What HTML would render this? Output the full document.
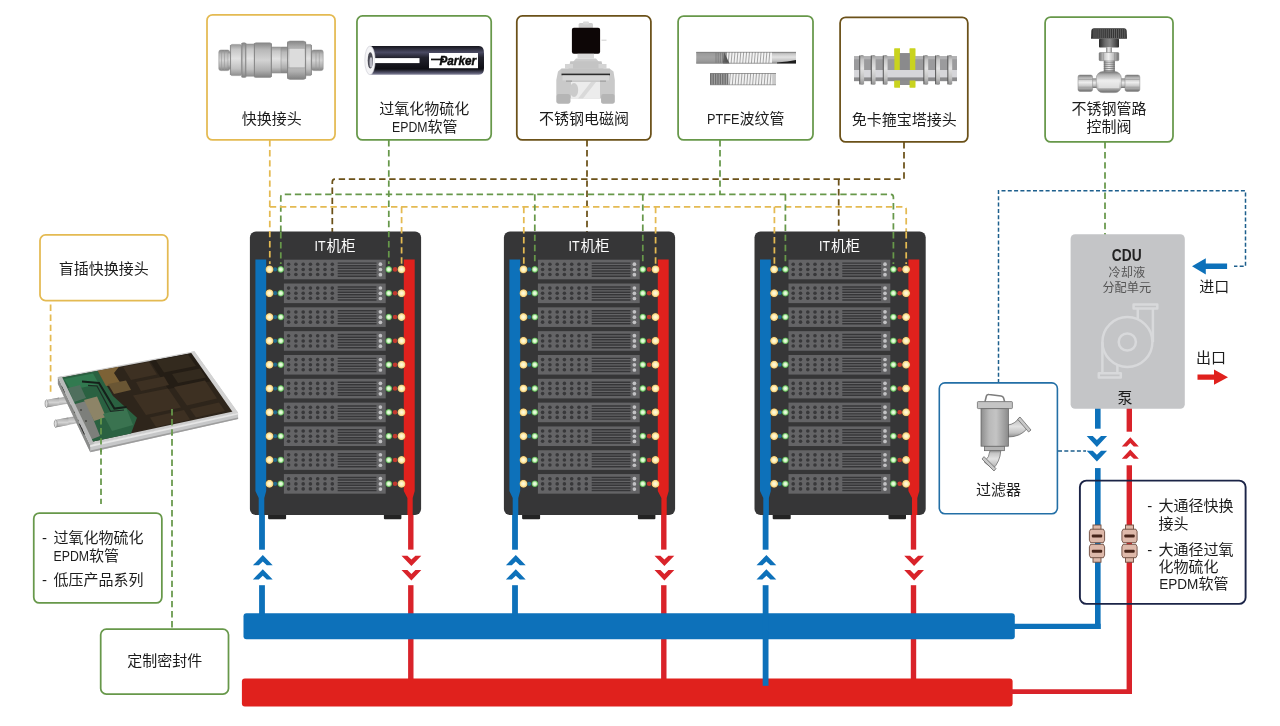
<!DOCTYPE html>
<html lang="zh-CN">
<head>
<meta charset="utf-8">
<title>液冷系统示意图</title>
<style>
html,body{margin:0;padding:0;background:#fff;}
body{width:1280px;height:726px;overflow:hidden;}
svg{display:block;will-change:transform;}
text{font-family:"Liberation Sans","Noto Sans CJK SC",sans-serif;}
.t{font-size:15px;fill:#1c1c1c;}
.dash{fill:none;stroke-width:1.75;stroke-dasharray:6.4 3.7;}
</style>
</head>
<body>
<svg width="1280" height="726" viewBox="0 0 1280 726">
<defs>
<linearGradient id="mv" x1="0" y1="0" x2="0" y2="1">
<stop offset="0" stop-color="#979797"/><stop offset="0.16" stop-color="#c6c6c6"/><stop offset="0.45" stop-color="#e2e2e2"/><stop offset="0.78" stop-color="#c1c1c1"/><stop offset="1" stop-color="#8e8e8e"/>
</linearGradient>
<linearGradient id="mv2" x1="0" y1="0" x2="0" y2="1">
<stop offset="0" stop-color="#868686"/><stop offset="0.2" stop-color="#b8b8b8"/><stop offset="0.5" stop-color="#d3d3d3"/><stop offset="0.8" stop-color="#aeaeae"/><stop offset="1" stop-color="#808080"/>
</linearGradient>
<linearGradient id="mh" x1="0" y1="0" x2="1" y2="0">
<stop offset="0" stop-color="#8a8a8a"/><stop offset="0.25" stop-color="#cfcfcf"/><stop offset="0.5" stop-color="#e9e9e9"/><stop offset="0.8" stop-color="#b5b5b5"/><stop offset="1" stop-color="#808080"/>
</linearGradient>
<linearGradient id="mhf" x1="0" y1="0" x2="1" y2="0">
<stop offset="0" stop-color="#8d8d8d"/><stop offset="0.3" stop-color="#b9b9b9"/><stop offset="0.55" stop-color="#c4c4c4"/><stop offset="0.85" stop-color="#9f9f9f"/><stop offset="1" stop-color="#8a8a8a"/>
</linearGradient>
<linearGradient id="mvc" x1="0" y1="0" x2="0" y2="1">
<stop offset="0" stop-color="#747474"/><stop offset="0.16" stop-color="#b4b4b4"/><stop offset="0.45" stop-color="#eeeeee"/><stop offset="0.76" stop-color="#bbbbbb"/><stop offset="1" stop-color="#6c6c6c"/>
</linearGradient>
<linearGradient id="mhc" x1="0" y1="0" x2="1" y2="0">
<stop offset="0" stop-color="#6f6f6f"/><stop offset="0.22" stop-color="#c2c2c2"/><stop offset="0.48" stop-color="#efefef"/><stop offset="0.8" stop-color="#b2b2b2"/><stop offset="1" stop-color="#6a6a6a"/>
</linearGradient>
<linearGradient id="mhd" x1="0" y1="0" x2="1" y2="0">
<stop offset="0" stop-color="#2a2a2a"/><stop offset="0.3" stop-color="#6c6c6c"/><stop offset="0.55" stop-color="#8a8a8a"/><stop offset="1" stop-color="#2c2c2c"/>
</linearGradient>
<linearGradient id="hoseg" x1="0" y1="0" x2="0" y2="1">
<stop offset="0" stop-color="#15151c"/><stop offset="0.22" stop-color="#4a4a62"/><stop offset="0.4" stop-color="#23232e"/><stop offset="0.8" stop-color="#0e0e14"/><stop offset="0.93" stop-color="#55556c"/><stop offset="1" stop-color="#8a8aa0"/>
</linearGradient>
<radialGradient id="ledY"><stop offset="0" stop-color="#fffbe6"/><stop offset="0.5" stop-color="#fdeeb6"/><stop offset="0.8" stop-color="#f3cf78"/><stop offset="1" stop-color="#c89a45" stop-opacity="0.15"/></radialGradient>
<radialGradient id="ledG"><stop offset="0" stop-color="#f4ffee"/><stop offset="0.45" stop-color="#d2f5c4"/><stop offset="0.8" stop-color="#5cae54"/><stop offset="1" stop-color="#2f7d35" stop-opacity="0.15"/></radialGradient>
<g id="srv">
<rect x="0" y="0" width="101.8" height="19.6" fill="#646466"/>
<g fill="#38383a">
<circle cx="4.7" cy="4.6" r="1.8"/>
<circle cx="12.0" cy="4.6" r="1.8"/>
<circle cx="19.3" cy="4.6" r="1.8"/>
<circle cx="26.5" cy="4.6" r="1.8"/>
<circle cx="33.8" cy="4.6" r="1.8"/>
<circle cx="41.1" cy="4.6" r="1.8"/>
<circle cx="48.4" cy="4.6" r="1.8"/>
<circle cx="4.7" cy="9.8" r="1.8"/>
<circle cx="12.0" cy="9.8" r="1.8"/>
<circle cx="19.3" cy="9.8" r="1.8"/>
<circle cx="26.5" cy="9.8" r="1.8"/>
<circle cx="33.8" cy="9.8" r="1.8"/>
<circle cx="41.1" cy="9.8" r="1.8"/>
<circle cx="48.4" cy="9.8" r="1.8"/>
<circle cx="4.7" cy="14.8" r="1.8"/>
<circle cx="12.0" cy="14.8" r="1.8"/>
<circle cx="19.3" cy="14.8" r="1.8"/>
<circle cx="26.5" cy="14.8" r="1.8"/>
<circle cx="33.8" cy="14.8" r="1.8"/>
<circle cx="41.1" cy="14.8" r="1.8"/>
<circle cx="48.4" cy="14.8" r="1.8"/>
</g>
<g stroke="#363638" stroke-width="1.45">
<path d="M53.8 3.40H92.6"/>
<path d="M53.8 6.02H92.6"/>
<path d="M53.8 8.64H92.6"/>
<path d="M53.8 11.26H92.6"/>
<path d="M53.8 13.88H92.6"/>
<path d="M53.8 16.50H92.6"/>
</g>
<g fill="#c2c2c4"><circle cx="96.5" cy="4.5" r="1.85"/><circle cx="96.5" cy="9.8" r="1.85"/><circle cx="96.5" cy="15" r="1.85"/></g>
</g>
<g id="unit">
<use href="#srv" x="34" y="0"/>
<circle cx="25.2" cy="9.7" r="2.1" fill="#1f6a8e"/>
<circle cx="145.2" cy="9.7" r="2.3" fill="#c23a2e"/>
<circle cx="19.6" cy="9.7" r="4.3" fill="url(#ledY)"/>
<circle cx="30.9" cy="9.7" r="3.7" fill="url(#ledG)"/>
<circle cx="138.9" cy="9.7" r="3.7" fill="url(#ledG)"/>
<circle cx="151.6" cy="9.7" r="4.3" fill="url(#ledY)"/>
</g>
<path id="chev" d="M0 0L9.9 10.3H4L0 6.5L-4 10.3H-9.9Z"/>
</defs>
<g id="dashed-lines">
<path class="dash" stroke="#6b5119" d="M904 142V179H335Q332.3 179 332.3 182V232"/>
<path class="dash" stroke="#6b5119" d="M587 140V232"/>
<path class="dash" stroke="#6b5119" d="M838.7 179V232"/>
<path class="dash" stroke="#67984a" d="M720 140V194.3"/>
<path class="dash" stroke="#67984a" d="M280.8 232V197.3Q280.8 194.3 283.8 194.3H890.4Q893.4 194.3 893.4 197.3V232"/>
<path class="dash" stroke="#67984a" d="M1105 142V235"/>
<path class="dash" stroke="#67984a" d="M101 418V504"/>
<path class="dash" stroke="#67984a" d="M172 409V629"/>
<path class="dash" stroke="#e4ba52" d="M269.8 206.8H903.2Q906.2 206.8 906.2 209.8V232"/>
<path class="dash" stroke="#e4ba52" d="M50.6 304.5V394"/>
<path class="dash" style="stroke-width:1.5;stroke-dasharray:4 2.3" stroke="#1d5f8d" d="M998.5 383V190.7H1245.5V266.2H1234"/>
<path class="dash" style="stroke-width:1.5;stroke-dasharray:4 2.3" stroke="#1d5f8d" d="M1058 451H1086"/>
</g>
<g id="boxes">
<rect x="207.00" y="14.80" width="128.05" height="125.10" rx="5.6" fill="#fff" stroke="#e4ba52" stroke-width="1.75"/>
<rect x="356.95" y="15.90" width="134.25" height="124.00" rx="5.6" fill="#fff" stroke="#67984a" stroke-width="1.75"/>
<rect x="516.80" y="15.90" width="134.10" height="124.00" rx="5.6" fill="#fff" stroke="#6b5119" stroke-width="1.75"/>
<rect x="678.10" y="16.00" width="134.90" height="123.90" rx="5.6" fill="#fff" stroke="#67984a" stroke-width="1.75"/>
<rect x="840.10" y="17.30" width="127.70" height="124.60" rx="5.6" fill="#fff" stroke="#6b5119" stroke-width="1.75"/>
<rect x="1045.10" y="17.10" width="127.90" height="124.80" rx="5.6" fill="#fff" stroke="#67984a" stroke-width="1.75"/>
<rect x="40.00" y="234.90" width="127.75" height="65.70" rx="5.6" fill="#fff" stroke="#e4ba52" stroke-width="1.75"/>
<rect x="33.75" y="513.10" width="128.10" height="89.80" rx="5.6" fill="#fff" stroke="#67984a" stroke-width="1.75"/>
<rect x="100.70" y="629.20" width="127.80" height="64.80" rx="5.6" fill="#fff" stroke="#67984a" stroke-width="1.75"/>
<rect x="939.30" y="382.90" width="118.10" height="130.80" rx="5.6" fill="#fff" stroke="#236fa6" stroke-width="1.6"/>
</g>
<g id="pipes">
<rect x="408.1" y="505" width="5.4" height="44.6" fill="#d9232a"/>
<rect x="408.1" y="585.2" width="5.4" height="95" fill="#d9232a"/>
<use href="#chev" transform="translate(411.4 566) scale(1 -1)" fill="#d9232a"/>
<use href="#chev" transform="translate(411.4 580.4) scale(1 -1)" fill="#d9232a"/>
<rect x="661.1" y="505" width="5.4" height="44.6" fill="#d9232a"/>
<rect x="661.1" y="585.2" width="5.4" height="95" fill="#d9232a"/>
<use href="#chev" transform="translate(664.4 566) scale(1 -1)" fill="#d9232a"/>
<use href="#chev" transform="translate(664.4 580.4) scale(1 -1)" fill="#d9232a"/>
<rect x="910.8" y="505" width="5.4" height="44.6" fill="#d9232a"/>
<rect x="910.8" y="585.2" width="5.4" height="95" fill="#d9232a"/>
<use href="#chev" transform="translate(914.1 566) scale(1 -1)" fill="#d9232a"/>
<use href="#chev" transform="translate(914.1 580.4) scale(1 -1)" fill="#d9232a"/>
<rect x="241.9" y="678.4" width="770.7" height="28.2" rx="3" fill="#e0211d"/>
<path d="M1010 691.6H1131.9" fill="none" stroke="#d9232a" stroke-width="4.8"/><rect x="1126.6" y="465.3" width="5.4" height="228.7" fill="#d9232a"/>
<rect x="1126.6" y="408" width="5.4" height="23.7" fill="#d9232a"/>
<use href="#chev" transform="translate(1130.3 437.2) scale(0.86 0.91)" fill="#d9232a"/>
<use href="#chev" transform="translate(1130.3 449.5) scale(0.86 0.91)" fill="#d9232a"/>
<rect x="243.5" y="613.2" width="771.3" height="26.1" rx="3" fill="#0d71ba"/>
<rect x="259.1" y="505" width="5.8" height="44.7" fill="#0d71ba"/>
<rect x="259.1" y="585.2" width="5.8" height="30" fill="#0d71ba"/>
<use href="#chev" transform="translate(262.8 555)" fill="#0d71ba"/>
<use href="#chev" transform="translate(262.8 569.2)" fill="#0d71ba"/>
<rect x="512.1" y="505" width="5.8" height="44.7" fill="#0d71ba"/>
<rect x="512.1" y="585.2" width="5.8" height="30" fill="#0d71ba"/>
<use href="#chev" transform="translate(515.8 555)" fill="#0d71ba"/>
<use href="#chev" transform="translate(515.8 569.2)" fill="#0d71ba"/>
<rect x="762.7" y="505" width="5.8" height="44.7" fill="#0d71ba"/>
<rect x="762.7" y="585.2" width="5.8" height="100.6" fill="#0d71ba"/>
<use href="#chev" transform="translate(766.4 555)" fill="#0d71ba"/>
<use href="#chev" transform="translate(766.4 569.2)" fill="#0d71ba"/>
<path d="M1012 626.4H1100.6" fill="none" stroke="#0d71ba" stroke-width="5.2"/><rect x="1095" y="468.1" width="5.6" height="160.9" fill="#0d71ba"/>
<rect x="1095" y="408" width="5.6" height="20.7" fill="#0d71ba"/>
<use href="#chev" transform="translate(1096.9 446.9) scale(1.03 -1.05)" fill="#0d71ba"/>
<use href="#chev" transform="translate(1096.9 461.6) scale(1.03 -1.05)" fill="#0d71ba"/>
</g>
<g transform="translate(249.9 0)">
<rect x="18.2" y="510" width="18" height="9.2" rx="1" fill="#232323"/><rect x="134" y="510" width="17.5" height="9.2" rx="1" fill="#232323"/>
<rect x="0" y="231.6" width="171.2" height="283.4" rx="6" fill="#363637"/>
<path d="M5.5 259.4H16.3V491L14.4 498V515H8.8V498L5.5 491Z" fill="#0d71ba"/>
<path d="M153.9 259.4H164.8V491L162.8 498V515H157.5V498L153.9 491Z" fill="#e0211d"/>
<use href="#unit" y="259.70"/>
<use href="#unit" y="283.52"/>
<use href="#unit" y="307.34"/>
<use href="#unit" y="331.16"/>
<use href="#unit" y="354.98"/>
<use href="#unit" y="378.80"/>
<use href="#unit" y="402.62"/>
<use href="#unit" y="426.44"/>
<use href="#unit" y="450.26"/>
<use href="#unit" y="474.08"/>
<text x="64.6" y="251" font-size="14.5" fill="#fff"><tspan textLength="11" lengthAdjust="spacingAndGlyphs">IT</tspan><tspan dx="1">机柜</tspan></text>
</g>
<g transform="translate(503.9 0)">
<rect x="18.2" y="510" width="18" height="9.2" rx="1" fill="#232323"/><rect x="134" y="510" width="17.5" height="9.2" rx="1" fill="#232323"/>
<rect x="0" y="231.6" width="171.2" height="283.4" rx="6" fill="#363637"/>
<path d="M5.5 259.4H16.3V491L14.4 498V515H8.8V498L5.5 491Z" fill="#0d71ba"/>
<path d="M153.9 259.4H164.8V491L162.8 498V515H157.5V498L153.9 491Z" fill="#e0211d"/>
<use href="#unit" y="259.70"/>
<use href="#unit" y="283.52"/>
<use href="#unit" y="307.34"/>
<use href="#unit" y="331.16"/>
<use href="#unit" y="354.98"/>
<use href="#unit" y="378.80"/>
<use href="#unit" y="402.62"/>
<use href="#unit" y="426.44"/>
<use href="#unit" y="450.26"/>
<use href="#unit" y="474.08"/>
<text x="64.6" y="251" font-size="14.5" fill="#fff"><tspan textLength="11" lengthAdjust="spacingAndGlyphs">IT</tspan><tspan dx="1">机柜</tspan></text>
</g>
<g transform="translate(754.5 0)">
<rect x="18.2" y="510" width="18" height="9.2" rx="1" fill="#232323"/><rect x="134" y="510" width="17.5" height="9.2" rx="1" fill="#232323"/>
<rect x="0" y="231.6" width="171.2" height="283.4" rx="6" fill="#363637"/>
<path d="M5.5 259.4H16.3V491L14.4 498V515H8.8V498L5.5 491Z" fill="#0d71ba"/>
<path d="M153.9 259.4H164.8V491L162.8 498V515H157.5V498L153.9 491Z" fill="#e0211d"/>
<use href="#unit" y="259.70"/>
<use href="#unit" y="283.52"/>
<use href="#unit" y="307.34"/>
<use href="#unit" y="331.16"/>
<use href="#unit" y="354.98"/>
<use href="#unit" y="378.80"/>
<use href="#unit" y="402.62"/>
<use href="#unit" y="426.44"/>
<use href="#unit" y="450.26"/>
<use href="#unit" y="474.08"/>
<text x="64.6" y="251" font-size="14.5" fill="#fff"><tspan textLength="11" lengthAdjust="spacingAndGlyphs">IT</tspan><tspan dx="1">机柜</tspan></text>
</g>
<g id="dashed-over-rack">
<path class="dash" stroke="#e4ba52" d="M269.8 140V264"/>
<path class="dash" stroke="#67984a" d="M388.8 140V264"/>
<path class="dash" stroke="#67984a" d="M280.8 232V264"/>
<path class="dash" stroke="#e4ba52" d="M401.6 206.8V264"/>
<path class="dash" stroke="#e4ba52" d="M523.8 206.8V264"/>
<path class="dash" stroke="#67984a" d="M534.8 194.3V264"/>
<path class="dash" stroke="#e4ba52" d="M774.4 206.8V264"/>
<path class="dash" stroke="#67984a" d="M785.4 194.3V264"/>
<path class="dash" stroke="#67984a" d="M642.8 194.3V264"/>
<path class="dash" stroke="#e4ba52" d="M655.6 206.8V264"/>
<path class="dash" stroke="#67984a" d="M893.4 232V264"/>
<path class="dash" stroke="#e4ba52" d="M906.2 232V264"/>
</g>
<g id="cdu">
<rect x="1070.6" y="234.3" width="114.2" height="174.4" rx="4.5" fill="#c4c5c7"/>
<g fill="none" stroke="#d8d9db" stroke-width="2.5" stroke-linejoin="round">
<circle cx="1127.4" cy="342" r="25"/>
<circle cx="1127.3" cy="342" r="8.6"/>
<rect x="1133.6" y="304.4" width="23.7" height="4"/>
<path d="M1137.8 308.4V319.4M1152.9 308.4V342"/>
<rect x="1098.8" y="373.3" width="22" height="4.2"/>
<path d="M1102.4 373.3V342M1117.4 373.3V365"/>
</g>
<path d="M1227.1 263.5H1205.8V258.2L1192 266.3L1205.8 274.4V269.1H1227.1Z" fill="#0d71ba"/>
<path d="M1197.5 374.6H1214V369.6L1228 377.2L1214 384.8V379.8H1197.5Z" fill="#e0211d"/>
</g>
<rect x="1079.90" y="480.60" width="165.70" height="123.30" rx="6.5" fill="none" stroke="#1b2447" stroke-width="1.9"/>
<g id="couplings">
<g transform="translate(1097.0 0)" stroke="#6d4c3f" stroke-width="0.9" fill="#deb9aa">
<rect x="-4" y="525" width="8" height="5"/><rect x="-4" y="557" width="8" height="5.2"/>
<path d="M-6.4 529.2H6.4L7.6 531.5V540.2L6.4 542.7H-6.4L-7.6 540.2V531.5Z"/>
<path d="M-6.4 544.3H6.4L7.6 546.8V555.3L6.4 557.7H-6.4L-7.6 555.3V546.8Z"/>
<rect x="-5.2" y="534.5" width="10.4" height="3" rx="1" fill="#47251a" stroke="none"/>
<rect x="-5.2" y="549.7" width="10.4" height="3" rx="1" fill="#47251a" stroke="none"/>
</g>
<g transform="translate(1129.5 0)" stroke="#6d4c3f" stroke-width="0.9" fill="#deb9aa">
<rect x="-4" y="525" width="8" height="5"/><rect x="-4" y="557" width="8" height="5.2"/>
<path d="M-6.4 529.2H6.4L7.6 531.5V540.2L6.4 542.7H-6.4L-7.6 540.2V531.5Z"/>
<path d="M-6.4 544.3H6.4L7.6 546.8V555.3L6.4 557.7H-6.4L-7.6 555.3V546.8Z"/>
<rect x="-5.2" y="534.5" width="10.4" height="3" rx="1" fill="#47251a" stroke="none"/>
<rect x="-5.2" y="549.7" width="10.4" height="3" rx="1" fill="#47251a" stroke="none"/>
</g>
</g>
<g id="quick-coupling" stroke="#8b8b8b" stroke-width="0.5">
<rect x="218.8" y="50.0" width="10.8" height="20.6" rx="2" fill="url(#mv2)"/>
<rect x="228.0" y="52.0" width="4.0" height="16.5" rx="1" fill="url(#mv)"/>
<rect x="230.6" y="44.4" width="10.8" height="31.2" rx="1.5" fill="url(#mv)"/>
<rect x="241.9" y="42.8" width="3.9" height="34.7" rx="1" fill="url(#mv2)"/>
<rect x="245.6" y="44.0" width="9.0" height="32.3" rx="1" fill="url(#mv)"/>
<rect x="254.4" y="42.8" width="17.0" height="34.7" rx="1.5" fill="url(#mv2)"/>
<rect x="271.3" y="47.0" width="10.2" height="26.1" rx="1" fill="url(#mv)"/>
<rect x="281.0" y="47.0" width="7.0" height="26.1" rx="0.5" fill="url(#mv2)"/>
<rect x="287.5" y="41.0" width="18.2" height="38.4" rx="2.5" fill="url(#mv2)"/>
<rect x="289.5" y="48.3" width="15" height="19.5" fill="#dcdcdc" stroke="none"/>
<path d="M288 48.3H305.3M288 67.8H305.3" stroke="#9a9a9a" stroke-width="0.6"/>
<rect x="305.5" y="44.4" width="5.8" height="31.2" rx="1" fill="url(#mv)"/>
<rect x="311.6" y="50.0" width="11.6" height="20.6" rx="2" fill="url(#mv2)"/>
<path d="M221.5 50.3V70.3M224.5 50.3V70.3M316 50.3V70.3M319.3 50.3V70.3" stroke="#999" stroke-width="0.6"/>
<path d="M230.4 45V75M241.8 43V77.3M245.8 43V77.3M254.4 43V77.3M271.4 43.4V77M287.6 41.6V78.8M305.6 41.6V78.8M311.4 45V75" stroke="#7f7f7f" stroke-width="0.8" fill="none"/>
</g>
<g id="hose">
<path d="M370 46H479Q484 46 484 53V68Q484 74.8 479 74.8H370Z" fill="url(#hoseg)"/>
<ellipse cx="370" cy="60.4" rx="5.2" ry="14.4" fill="#f4f4f6" stroke="#c9c9d2" stroke-width="0.6"/>
<ellipse cx="370.3" cy="60.4" rx="2.6" ry="8.2" fill="#4b4b55"/>
<ellipse cx="371" cy="62.5" rx="1.5" ry="5.2" fill="#b8b8c2"/>
<rect x="375" y="58.1" width="44.5" height="5" fill="#fff"/>
<rect x="429" y="53" width="49" height="15.2" fill="#fff"/>
<rect x="431" y="58.6" width="13" height="1.7" fill="#111"/>
<text x="439.5" y="65.4" font-size="12.5" font-weight="bold" font-style="italic" fill="#0c0c0c" stroke="#0c0c0c" stroke-width="0.45" textLength="36.5" lengthAdjust="spacingAndGlyphs">Parker</text>
</g>
<g id="solenoid">
<rect x="578.6" y="23" width="14.4" height="5.6" rx="1.5" fill="#cfcfcf"/>
<rect x="583" y="21.6" width="6" height="3" rx="1" fill="#dadada"/>
<rect x="571.9" y="27.8" width="28.2" height="26" rx="2" fill="#0d0606"/>
<rect x="601.5" y="39.7" width="5" height="0.9" fill="#c9c9c9"/>
<rect x="577.5" y="53.8" width="16.5" height="4.6" fill="#d9d9d9"/>
<path d="M576 58.4H596L599 62H573Z" fill="#cbcbcb"/>
<path d="M570.3 61.3H601.5L603.5 69H568.5Z" fill="#c4c4c4"/>
<rect x="565" y="64" width="8" height="4.6" fill="#d4d4d4"/><rect x="598.5" y="64" width="8" height="4.6" fill="#d4d4d4"/>
<path d="M558 71.5L561.5 68.6H609.5L613.5 71.5L614.8 80V101Q614.8 103.8 612 103.8H603Q601 103.8 601 101V98.6H570.5V101Q570.5 103.8 568 103.8H559Q556.3 103.8 556.3 101V80Z" fill="#c9c9c9"/>
<rect x="561.3" y="68.8" width="48.7" height="5.2" fill="#c2c2c2"/>
<rect x="561.5" y="73.6" width="48.5" height="1.7" fill="#2b2b2b"/>
<rect x="562.5" y="75.5" width="46.5" height="5" fill="#d6d6d6"/>
<rect x="566" y="80.4" width="6" height="1.6" fill="#a9a9a9"/><rect x="600" y="80.4" width="6" height="1.6" fill="#a9a9a9"/>
<path d="M571 82H600V98.6H571Z" fill="#ececec"/>
<path d="M591 82H596L583 98.6H578Z" fill="#d9d9d9"/>
<ellipse cx="574" cy="90" rx="4.2" ry="7" fill="#cbcbcb"/>
<rect x="556.6" y="94" width="13.6" height="9.6" rx="2" fill="#b5b5b5"/><rect x="601.2" y="94" width="13.4" height="9.6" rx="2" fill="#b5b5b5"/>
</g>
<g id="ptfe">
<rect x="696.3" y="52" width="99.7" height="11.4" fill="url(#mv)"/>
<rect x="696.3" y="52" width="32" height="11.4" fill="#8e8e8e" opacity="0.75"/>
<rect x="727" y="52" width="45" height="11.4" fill="#f3f3f3"/>
<g stroke="#a3a3a3" stroke-width="1"><path d="M729.20 52L728.20 63.4"/><path d="M732.10 52L731.10 63.4"/><path d="M735.00 52L734.00 63.4"/><path d="M737.90 52L736.90 63.4"/><path d="M740.80 52L739.80 63.4"/><path d="M743.70 52L742.70 63.4"/><path d="M746.60 52L745.60 63.4"/><path d="M749.50 52L748.50 63.4"/><path d="M752.40 52L751.40 63.4"/><path d="M755.30 52L754.30 63.4"/><path d="M758.20 52L757.20 63.4"/><path d="M761.10 52L760.10 63.4"/><path d="M764.00 52L763.00 63.4"/><path d="M766.90 52L765.90 63.4"/><path d="M769.80 52L768.80 63.4"/></g>
<path d="M724 52L729.5 63.4H723Z" fill="#555"/>
<g stroke="#6b6b6b" stroke-width="0.6"><path d="M716.0 52.5V63"/><path d="M718.2 52.5V63"/><path d="M720.4 52.5V63"/><path d="M722.6 52.5V63"/><path d="M724.8 52.5V63"/></g>
<path d="M777 62.6Q788 61.8 796 60V63.4H777Z" fill="#1c1c1c"/>
<path d="M696.3 52.3H796" stroke="#777" stroke-width="0.7"/><path d="M696.3 63.2H777" stroke="#8b8b8b" stroke-width="0.7"/>
<rect x="710" y="73.2" width="66" height="11.8" fill="#f1f1f1"/>
<rect x="710" y="73.2" width="18.4" height="11.8" fill="#6f6f6f"/>
<g stroke="#bdbdbd" stroke-width="0.7"><path d="M712.0 73.4V84.8"/><path d="M714.4 73.4V84.8"/><path d="M716.8 73.4V84.8"/><path d="M719.2 73.4V84.8"/><path d="M721.6 73.4V84.8"/><path d="M724.0 73.4V84.8"/><path d="M726.4 73.4V84.8"/></g>
<g stroke="#a3a3a3" stroke-width="1"><path d="M730.40 73.2L729.40 85"/><path d="M733.30 73.2L732.30 85"/><path d="M736.20 73.2L735.20 85"/><path d="M739.10 73.2L738.10 85"/><path d="M742.00 73.2L741.00 85"/><path d="M744.90 73.2L743.90 85"/><path d="M747.80 73.2L746.80 85"/><path d="M750.70 73.2L749.70 85"/><path d="M753.60 73.2L752.60 85"/><path d="M756.50 73.2L755.50 85"/><path d="M759.40 73.2L758.40 85"/><path d="M762.30 73.2L761.30 85"/><path d="M765.20 73.2L764.20 85"/><path d="M768.10 73.2L767.10 85"/><path d="M771.00 73.2L770.00 85"/></g>
<rect x="772.2" y="73.2" width="3.8" height="11.8" fill="#c9c9c9"/>
<path d="M710 73.5H776" stroke="#777" stroke-width="0.7"/><path d="M710 84.8H776" stroke="#8b8b8b" stroke-width="0.7"/>
</g>
<g id="barb">
<rect x="894.4" y="48.5" width="5.6" height="39" fill="#c9d31f"/>
<rect x="909.7" y="48.5" width="5.6" height="39" fill="#c9d31f"/>
<rect x="899.6" y="53.2" width="10.4" height="31.8" fill="#8d8d8f"/>
<rect x="854" y="56.3" width="103" height="24.8" fill="#9b9b9d"/>
<rect x="854" y="56.3" width="103" height="3" fill="#b1b1b3"/>
<rect x="854" y="70" width="103" height="7.6" fill="#d6d6da"/>
<rect x="854" y="77.6" width="103" height="3.5" fill="#8b8b8d"/>
<rect x="894.4" y="48.5" width="5.6" height="21.5" fill="#c9d31f"/>
<rect x="894.4" y="80.5" width="5.6" height="7" fill="#c9d31f"/>
<rect x="909.7" y="48.5" width="5.6" height="21.5" fill="#c9d31f"/>
<rect x="909.7" y="80.5" width="5.6" height="7" fill="#c9d31f"/>
<rect x="899.8" y="53.2" width="10" height="16.8" fill="#8a8a8c"/>
<rect x="859.8" y="55" width="4.3" height="29.8" rx="1.6" fill="url(#mv)"/>
<rect x="859.3" y="55.4" width="0.9" height="29" fill="#4a4a4a"/>
<rect x="871.3" y="55" width="4.3" height="29.8" rx="1.6" fill="url(#mv)"/>
<rect x="870.8" y="55.4" width="0.9" height="29" fill="#4a4a4a"/>
<rect x="883.3" y="55" width="4.3" height="29.8" rx="1.6" fill="url(#mv)"/>
<rect x="882.8" y="55.4" width="0.9" height="29" fill="#4a4a4a"/>
<rect x="923.9" y="55" width="4.3" height="29.8" rx="1.6" fill="url(#mv)"/>
<rect x="923.4" y="55.4" width="0.9" height="29" fill="#4a4a4a"/>
<rect x="935.7" y="55" width="4.3" height="29.8" rx="1.6" fill="url(#mv)"/>
<rect x="935.2" y="55.4" width="0.9" height="29" fill="#4a4a4a"/>
<rect x="947.9" y="55" width="4.3" height="29.8" rx="1.6" fill="url(#mv)"/>
<rect x="947.4" y="55.4" width="0.9" height="29" fill="#4a4a4a"/>
</g>
<g id="needle-valve">
<path d="M1094 28.2H1124Q1126.4 28.2 1126.7 31L1127 38.8H1091L1091.3 31Q1091.6 28.2 1094 28.2Z" fill="#353535"/>
<g stroke="#757575" stroke-width="0.7"><path d="M1094.0 29V38"/><path d="M1096.0 29V38"/><path d="M1098.1 29V38"/><path d="M1100.2 29V38"/><path d="M1102.2 29V38"/><path d="M1104.2 29V38"/><path d="M1106.3 29V38"/><path d="M1108.3 29V38"/><path d="M1110.4 29V38"/><path d="M1112.5 29V38"/><path d="M1114.5 29V38"/><path d="M1116.5 29V38"/><path d="M1118.6 29V38"/><path d="M1120.7 29V38"/><path d="M1122.7 29V38"/><path d="M1124.8 29V38"/></g>
<rect x="1099" y="38.8" width="20" height="8.8" rx="0.8" fill="url(#mhd)"/>
<rect x="1106.2" y="47.4" width="5.6" height="5.4" fill="url(#mhc)"/>
<rect x="1099.1" y="52.5" width="19.7" height="8.2" rx="1" fill="url(#mhc)" stroke="#7a7a7a" stroke-width="0.5"/>
<path d="M1103.6 52.7V60.5M1114.6 52.7V60.5" stroke="#8a8a8a" stroke-width="0.6"/>
<rect x="1103.8" y="60.6" width="11" height="11.4" fill="url(#mhc)"/>
<g stroke="#6f6f6f" stroke-width="0.7"><path d="M1103.8 62.2H1114.8"/><path d="M1103.8 64.3H1114.8"/><path d="M1103.8 66.4H1114.8"/><path d="M1103.8 68.5H1114.8"/><path d="M1103.8 70.6H1114.8"/></g>
<rect x="1090" y="78.4" width="37" height="9.6" fill="url(#mvc)"/>
<rect x="1078" y="75" width="14.6" height="16.4" rx="2" fill="url(#mvc)" stroke="#858585" stroke-width="0.5"/>
<rect x="1125" y="75" width="14.8" height="16.4" rx="2" fill="url(#mvc)" stroke="#858585" stroke-width="0.5"/>
<path d="M1078.4 79.4H1092.4M1078.4 87.2H1092.4M1125.2 79.4H1139.6M1125.2 87.2H1139.6" stroke="#8d8d8d" stroke-width="0.6"/>
<rect x="1096.3" y="71.6" width="25" height="21" rx="6.5" fill="url(#mvc)" stroke="#858585" stroke-width="0.5"/>
<rect x="1098.4" y="79.4" width="20.8" height="8.8" fill="#ececec" opacity="0.7"/>
</g>
<g id="blade">
<path d="M46.2 400.4L69.5 396.4V403.0L46.2 407.0Z" fill="url(#mv2)" stroke="#8a8a8a" stroke-width="0.5"/>
<path d="M46.2 399.9L59.2 397.6V405.1L46.2 407.4Z" fill="url(#mv2)"/>
<ellipse cx="46.5" cy="403.6" rx="1.5" ry="3.7" fill="#dcdcdc" stroke="#7e7e7e" stroke-width="0.6"/>
<path d="M55.4 420.4L78.0 416.0V422.6L55.4 427.0Z" fill="url(#mv2)" stroke="#8a8a8a" stroke-width="0.5"/>
<path d="M55.4 419.9L68.4 417.6V425.1L55.4 427.4Z" fill="url(#mv2)"/>
<ellipse cx="55.7" cy="423.6" rx="1.5" ry="3.7" fill="#dcdcdc" stroke="#7e7e7e" stroke-width="0.6"/>
<path d="M57.9 377.1L90.2 445L238.1 412.7V419L90.4 452.3L57.9 384Z" fill="#c6c7c8"/>
<path d="M57.9 377.1L90.2 445V452.3L57.9 384Z" fill="#8b8c8b"/>
<path d="M61.5 386L64 385.5L67 392L64.6 392.6Z M79 424L82.4 423.2L87.4 433.6L84 434.6Z" fill="#2a2a2a"/>
<path d="M90.2 445L238.1 412.7V414.6L90.2 447Z" fill="#e6e6e6"/>
<path d="M90.4 450.6L238.1 417.6V419L90.4 452.3Z" fill="#9d9d9d"/>
<path d="M57.9 377.1L194.4 351.2L238.1 412.7L90.2 445Z" fill="#cdcdcd"/>
<path d="M61.2 377.8L192.4 353L233 411.4L92 441.8Z" fill="#2e251b"/>
<path d="M150 361L192.4 353L212 381L168 389Z" fill="#241d15"/>
<path d="M61.2 377.8L97.6 370.8L113 396L137 417.7L131 433.4L92 441.8Z" fill="#2a6141"/>
<path d="M64 379L93 373.5L99 384L71 390Z" fill="#327a50"/>
<path d="M70 405.6L86 401L100 436L90 440Z" fill="#7d7f7b"/>
<path d="M84 400L97 396.5L106 417L94 421Z" fill="#8d8467"/>
<path d="M103 414L126 407.5L133 425L112 431Z" fill="#3a7350"/>
<path d="M68 388L80 385L86 398L74 402Z" fill="#4f6f5d"/>
<g fill="#22241f"><circle cx="75" cy="412" r="0.9"/><circle cx="79" cy="420" r="0.9"/><circle cx="83" cy="428" r="0.9"/><circle cx="87" cy="435" r="0.9"/><circle cx="81" cy="410" r="0.8"/><circle cx="86" cy="421" r="0.8"/></g>
<path d="M82 381.6L99 383L114.4 408.6L126.6 407" fill="none" stroke="#15201a" stroke-width="2"/>
<path d="M88 385.4L97 386L110.6 411.4L124 410" fill="none" stroke="#1d2c24" stroke-width="1.2"/>
<path d="M97.6 370.8L119 366.8L114 373L121 384L106 386Z" fill="#7d6236"/>
<path d="M108 384L126 380.6L131 390L114 394Z" fill="#6a5634"/>
<g fill="#3d3022">
<path d="M123 367L149 362L157 374.6L131 380Z"/>
<path d="M133 395.5L168 388.5L181 407.5L146 415Z"/>
<path d="M174 387L205 380.5L217 398.5L187 405.5Z"/>
<path d="M136 382L164 376.5L169 385L141 391Z"/>
<path d="M150 417.5L184 410L190 419.5L156 427Z"/>
<path d="M190 409L219 402.5L225 411L196 417.5Z"/>
</g>
<g fill="#332a1e">
<path d="M156 360.6L188 354.6L196 366L164 372.4Z"/>
<path d="M172 374L200 368.6L206 377.4L178 383Z"/>
</g>
<path d="M194.4 351.2L238.1 412.7L233.6 413.6L190.6 352Z" fill="#d2d2d2"/>
<path d="M57.9 377.1L61.8 376.4L94 443.8L90.2 445Z" fill="#b9baba"/>
</g>
<g id="filter" stroke="#5f5f5f" stroke-width="0.7">
<path d="M985 401.6L986.4 396Q987 394.2 989 394.5L1001 396Q1003 396.3 1003.6 398L1004.6 401.6" fill="none" stroke="#7d7d7d" stroke-width="1.6"/>
<path d="M1008 425Q1015 424 1019 418L1027.5 428Q1021 437 1008 437Z" fill="url(#mv)"/>
<path d="M1019.2 417.2L1030 430.6" stroke="#5f5f5f" stroke-width="0.6" fill="none"/>
<path d="M1017.6 419.2L1020 417L1031 430L1028.6 432Z" fill="#c8c8c8"/>
<path d="M990 450.6H1000.8Q1000 462 992.8 469L984.2 462Q989.6 457 990 450.6Z" fill="url(#mv)"/>
<path d="M982 459L984 456.6L996 468.6L994 471Z" fill="#c8c8c8"/>
<rect x="984.4" y="446" width="20" height="4.7" fill="#b3b3b3"/>
<rect x="981" y="408.4" width="27.4" height="37.8" fill="url(#mhf)"/>
<rect x="977.4" y="401.6" width="35" height="7" rx="0.8" fill="#c4c4c4"/>
</g>
<path class="dash" stroke="#67984a" d="M101 418V452"/>
<path class="dash" stroke="#67984a" d="M172 409V440"/>
<g id="labels">
<text class="t" x="271.8" y="124.4" text-anchor="middle">快换接头</text>
<text class="t" x="424.2" y="114.0" text-anchor="middle">过氧化物硫化</text>
<text class="t" x="392.0" y="132.0" text-anchor="start"><tspan textLength="35.5" lengthAdjust="spacingAndGlyphs">EPDM</tspan>软管</text>
<text class="t" x="584.0" y="124.2" text-anchor="middle">不锈钢电磁阀</text>
<text class="t" x="707.0" y="124.4" text-anchor="start"><tspan textLength="32.5" lengthAdjust="spacingAndGlyphs">PTFE</tspan>波纹管</text>
<text class="t" x="904.3" y="124.6" text-anchor="middle">免卡箍宝塔接头</text>
<text class="t" x="1109.0" y="114.2" text-anchor="middle">不锈钢管路</text>
<text class="t" x="1109.0" y="131.8" text-anchor="middle">控制阀</text>
<text class="t" x="103.8" y="273.5" text-anchor="middle">盲插快换接头</text>
<text class="t" x="42.0" y="542.5" text-anchor="start">-</text>
<text class="t" x="53.5" y="542.5" text-anchor="start">过氧化物硫化</text>
<text class="t" x="53.5" y="561.2" text-anchor="start"><tspan textLength="35.5" lengthAdjust="spacingAndGlyphs">EPDM</tspan>软管</text>
<text class="t" x="42.0" y="585.0" text-anchor="start">-</text>
<text class="t" x="53.5" y="585.0" text-anchor="start">低压产品系列</text>
<text class="t" x="164.7" y="666.3" text-anchor="middle">定制密封件</text>
<text class="t" x="998.5" y="495.2" text-anchor="middle">过滤器</text>
<text class="t" x="1111.8" y="261.3" text-anchor="start" style="font-weight:bold;font-size:16.2px;fill:#222"><tspan textLength="29.8" lengthAdjust="spacingAndGlyphs">CDU</tspan></text>
<text class="t" x="1126.8" y="277.3" text-anchor="middle" style="font-size:12.2px;fill:#555">冷却液</text>
<text class="t" x="1126.8" y="292.2" text-anchor="middle" style="font-size:12.2px;fill:#555">分配单元</text>
<text class="t" x="1125.0" y="403.0" text-anchor="middle">泵</text>
<text class="t" x="1214.2" y="291.8" text-anchor="middle">进口</text>
<text class="t" x="1211.0" y="363.2" text-anchor="middle">出口</text>
<text class="t" x="1147.3" y="510.6" text-anchor="start">-</text>
<text class="t" x="1158.6" y="510.6" text-anchor="start">大通径快换</text>
<text class="t" x="1158.6" y="528.6" text-anchor="start">接头</text>
<text class="t" x="1147.3" y="554.5" text-anchor="start">-</text>
<text class="t" x="1158.6" y="554.5" text-anchor="start">大通径过氧</text>
<text class="t" x="1158.6" y="571.5" text-anchor="start">化物硫化</text>
<text class="t" x="1159.2" y="588.8" text-anchor="start"><tspan textLength="39.2" lengthAdjust="spacingAndGlyphs">EPDM</tspan>软管</text>
</g>
</svg>
</body>
</html>
